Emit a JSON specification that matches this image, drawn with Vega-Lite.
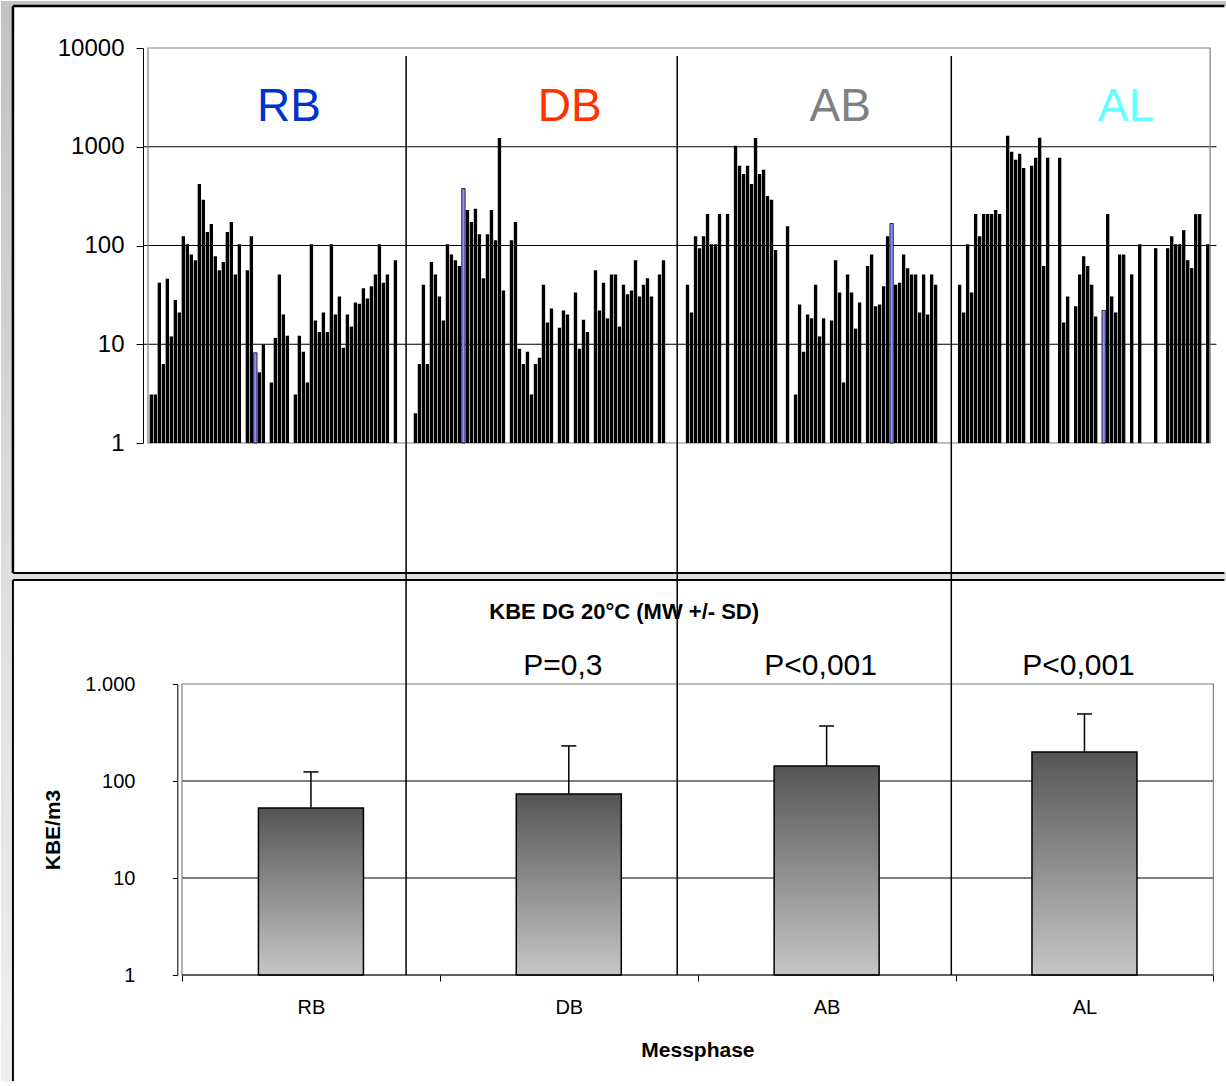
{
  "$schema": "https://vega.github.io/schema/vega-lite/v6.json",
  "background": "white",
  "padding": 0,
  "spacing": -3,
  "config": {
    "view": {"stroke": null},
    "font": "Liberation Sans",
    "axis": {"labelFont": "Liberation Sans", "titleFont": "Liberation Sans", "labelColor": "black", "titleColor": "black"}
  },
  "datasets": {
    "proben": [
      {"i":0,"v":3.1},{"i":1,"v":3.1},{"i":2,"v":42},{"i":3,"v":6.3},{"i":4,"v":46},{"i":5,"v":12},{"i":6,"v":28},{"i":7,"v":21},{"i":8,"v":124},{"i":9,"v":103},
      {"i":10,"v":81},{"i":11,"v":71},{"i":12,"v":420},{"i":13,"v":290},{"i":14,"v":137},{"i":15,"v":165},{"i":16,"v":78},{"i":17,"v":56},{"i":18,"v":68},{"i":19,"v":137},
      {"i":20,"v":173},{"i":21,"v":51},{"i":22,"v":103},{"i":24,"v":56},{"i":25,"v":124},{"i":26,"v":8.2,"flag":1},{"i":27,"v":5.2},{"i":28,"v":10},
      {"i":30,"v":4.1},{"i":31,"v":11.6},{"i":32,"v":51},{"i":33,"v":20},{"i":34,"v":12.2},{"i":36,"v":3.1},{"i":37,"v":12.2},{"i":38,"v":8.4},{"i":39,"v":4.1},
      {"i":40,"v":103},{"i":41,"v":17.4},{"i":42,"v":13.3},{"i":43,"v":21},{"i":44,"v":13.3},{"i":45,"v":103},{"i":46,"v":20},{"i":47,"v":30.5},{"i":48,"v":9.2},{"i":49,"v":20},
      {"i":50,"v":15.1},{"i":51,"v":26.5},{"i":52,"v":25.7},{"i":53,"v":36.8},{"i":54,"v":29},{"i":55,"v":38.6},{"i":56,"v":51},{"i":57,"v":103},{"i":58,"v":42},{"i":59,"v":51},
      {"i":61,"v":71},
      {"i":66,"v":2.0},{"i":67,"v":6.3},{"i":68,"v":40},{"i":69,"v":6.3},{"i":70,"v":68},{"i":71,"v":51},{"i":72,"v":30.5},{"i":73,"v":17.4},{"i":74,"v":103},{"i":75,"v":81},
      {"i":76,"v":71},{"i":77,"v":62},{"i":78,"v":377,"flag":1},{"i":79,"v":229},{"i":80,"v":173},{"i":81,"v":236},{"i":82,"v":130},{"i":83,"v":46.5},{"i":84,"v":130},{"i":85,"v":229},
      {"i":86,"v":113},{"i":87,"v":1225},{"i":88,"v":35},{"i":90,"v":113},{"i":91,"v":173},{"i":92,"v":9.0},{"i":93,"v":6.3},{"i":94,"v":8.4},{"i":95,"v":3.1},{"i":96,"v":6.3},
      {"i":97,"v":7.3},{"i":98,"v":40},{"i":99,"v":16.6},{"i":100,"v":23},{"i":102,"v":14.7},{"i":103,"v":22},{"i":104,"v":20},{"i":106,"v":33.5},{"i":107,"v":9.0},{"i":108,"v":17.7},
      {"i":109,"v":13.3},{"i":111,"v":56},{"i":112,"v":22},{"i":113,"v":42},{"i":114,"v":18.3},{"i":115,"v":51},{"i":116,"v":51},{"i":117,"v":15.1},{"i":118,"v":40},{"i":119,"v":32},
      {"i":120,"v":35},{"i":121,"v":71},{"i":122,"v":30.5},{"i":123,"v":40},{"i":124,"v":46.5},{"i":125,"v":30.5},{"i":127,"v":51},{"i":128,"v":71},
      {"i":134,"v":40},{"i":135,"v":21},{"i":136,"v":124},{"i":137,"v":94},{"i":138,"v":124},{"i":139,"v":208},{"i":140,"v":103},{"i":141,"v":103},{"i":142,"v":208},{"i":144,"v":208},
      {"i":146,"v":1024},{"i":147,"v":641},{"i":148,"v":531},{"i":149,"v":641},{"i":150,"v":420},{"i":151,"v":1225},{"i":152,"v":531},{"i":153,"v":584},{"i":154,"v":318},{"i":155,"v":290},
      {"i":156,"v":90},{"i":159,"v":157},{"i":161,"v":3.1},{"i":162,"v":25.3},{"i":163,"v":8.4},{"i":164,"v":20},{"i":165,"v":18.3},{"i":166,"v":40},{"i":167,"v":12},{"i":168,"v":18.3},
      {"i":170,"v":17.4},{"i":171,"v":71},{"i":172,"v":33.5},{"i":173,"v":4.1},{"i":174,"v":51},{"i":175,"v":33.5},{"i":176,"v":14.4},{"i":177,"v":26.5},{"i":179,"v":62},{"i":180,"v":81},
      {"i":181,"v":24.2},{"i":182,"v":25.3},{"i":183,"v":38.6},{"i":184,"v":124},{"i":185,"v":167,"flag":1},{"i":186,"v":40},{"i":187,"v":42},{"i":188,"v":81},{"i":189,"v":59},{"i":190,"v":51},
      {"i":191,"v":51},{"i":192,"v":21},{"i":193,"v":51},{"i":194,"v":20},{"i":195,"v":51},{"i":196,"v":40},
      {"i":202,"v":40},{"i":203,"v":21},{"i":204,"v":103},{"i":205,"v":33.5},{"i":206,"v":208},{"i":207,"v":124},{"i":208,"v":208},{"i":209,"v":208},{"i":210,"v":208},{"i":211,"v":229},
      {"i":212,"v":208},{"i":214,"v":1294},{"i":215,"v":890},{"i":216,"v":738},{"i":217,"v":849},{"i":218,"v":611},{"i":220,"v":641},{"i":221,"v":773},{"i":222,"v":1232},{"i":223,"v":62},
      {"i":224,"v":773},{"i":227,"v":773},{"i":228,"v":16.6},{"i":229,"v":30.5},{"i":231,"v":24.2},{"i":232,"v":51},{"i":233,"v":78},{"i":234,"v":62},{"i":235,"v":40},{"i":236,"v":19.1},
      {"i":238,"v":22,"flag":1},{"i":239,"v":208},{"i":240,"v":30.5},{"i":241,"v":21},{"i":242,"v":81},{"i":243,"v":81},{"i":245,"v":51},{"i":247,"v":103},{"i":251,"v":94},
      {"i":254,"v":94},{"i":255,"v":124},{"i":256,"v":103},{"i":257,"v":103},{"i":258,"v":143},{"i":259,"v":71},{"i":260,"v":59},{"i":261,"v":208},{"i":262,"v":208},{"i":264,"v":103}
    ],
    "phasen": [
      {"phase": "RB", "mitte": 34.42},
      {"phase": "DB", "mitte": 104.55},
      {"phase": "AB", "mitte": 172.17},
      {"phase": "AL", "mitte": 243.55}
    ],
    "mittel": [
      {"phase": "RB", "nr": 1, "mw": 52.7, "mw_sd": 124, "p": ""},
      {"phase": "DB", "nr": 2, "mw": 73.5, "mw_sd": 230, "p": "P=0,3"},
      {"phase": "AB", "nr": 3, "mw": 143, "mw_sd": 369, "p": "P<0,001"},
      {"phase": "AL", "nr": 4, "mw": 199, "mw_sd": 491, "p": "P<0,001"}
    ]
  },
  "vconcat": [
    {
      "width": 1073.4,
      "height": 395,
      "layer": [
        {
          "data": {"values": [{}]},
          "mark": {"type": "rect", "fill": {"gradient": "linear", "x1": 0, "y1": 0, "x2": 0, "y2": 1, "stops": [{"offset": 0, "color": "#c2c2c2"}, {"offset": 1, "color": "#dedede"}]}},
          "encoding": {
            "x": {"datum": -37.58, "type": "quantitative", "scale": {"domain": [-0.83, 264.92], "nice": false, "zero": false}},
            "x2": {"datum": -34.58},
            "y": {"datum": 29920, "type": "quantitative", "scale": {"type": "log", "domain": [1, 10000]}},
            "y2": {"datum": 0.04395}
          }
        },
        {
          "data": {"values": [{}]},
          "mark": {"type": "rect", "fill": "#c4c4c4"},
          "encoding": {
            "x": {"datum": -37.58, "type": "quantitative"},
            "x2": {"datum": 268.795},
            "y": {"datum": 29920, "type": "quantitative"},
            "y2": {"datum": 26630}
          }
        },
        {
          "data": {"values": [{}]},
          "mark": {"type": "rect", "fill": "#dfdfdf"},
          "encoding": {
            "x": {"datum": -37.58, "type": "quantitative"},
            "x2": {"datum": 268.795},
            "y": {"datum": 0.04826, "type": "quantitative"},
            "y2": {"datum": 0.04395}
          }
        },
        {
          "data": {"values": [{}]},
          "mark": {"type": "rect", "fill": "white"},
          "encoding": {
            "x": {"datum": -34.58, "type": "quantitative"},
            "x2": {"datum": 268.795},
            "y": {"datum": 26630, "type": "quantitative"},
            "y2": {"datum": 0.04826}
          }
        },
        {
          "data": {"values": [{}]},
          "mark": {"type": "rule", "color": "black", "strokeWidth": 2.5},
          "encoding": {
            "x": {"datum": -34.58, "type": "quantitative"},
            "y": {"datum": 26630, "type": "quantitative"},
            "y2": {"datum": 0.04826}
          }
        },
        {
          "data": {"values": [{}]},
          "mark": {"type": "rule", "color": "black", "strokeWidth": 2.5},
          "encoding": {
            "x": {"datum": -34.58, "type": "quantitative"},
            "x2": {"datum": 268.17},
            "y": {"datum": 26630, "type": "quantitative"}
          }
        },
        {
          "data": {"values": [{}]},
          "mark": {"type": "rule", "color": "black", "strokeWidth": 2},
          "encoding": {
            "x": {"datum": -34.58, "type": "quantitative"},
            "x2": {"datum": 268.17},
            "y": {"datum": 0.04826, "type": "quantitative"}
          }
        },
        {
          "data": {"values": [{"gitter": 10}, {"gitter": 100}, {"gitter": 1000}]},
          "mark": {"type": "rule", "color": "black", "strokeWidth": 1},
          "encoding": {
            "y": {"field": "gitter", "type": "quantitative"}
          }
        },
        {
          "data": {"values": [{}]},
          "mark": {"type": "rect", "fill": null, "stroke": "#808080", "strokeWidth": 1.2},
          "encoding": {
            "x": {"datum": -0.83, "type": "quantitative"},
            "x2": {"datum": 264.6},
            "y": {"datum": 1, "type": "quantitative"},
            "y2": {"datum": 10000}
          }
        },
        {
          "data": {"name": "proben"},
          "mark": {"type": "bar", "orient": "vertical", "size": 3.35},
          "encoding": {
            "x": {
              "field": "i", "type": "quantitative",
              "scale": {"domain": [-0.83, 264.92], "nice": false, "zero": false},
              "axis": {"domain": false, "ticks": false, "labels": false, "grid": false, "title": null}
            },
            "y": {
              "field": "v", "type": "quantitative",
              "scale": {"type": "log", "domain": [1, 10000]},
              "axis": {
                "values": [1, 10, 100, 1000, 10000],
                "grid": false,
                "domainColor": "black", "domainWidth": 1,
                "tickColor": "black", "tickSize": 7, "tickWidth": 1,
                "labelFontSize": 24, "labelPadding": 12,
                "labelExpr": "format(datum.value, 'd')",
                "title": null,
                "zindex": 1
              }
            },
            "y2": {"datum": 1},
            "fill": {"condition": {"test": "datum.flag === 1", "value": "#8f8fff"}, "value": "black"},
            "stroke": {"condition": {"test": "datum.flag === 1", "value": "black"}, "value": null},
            "strokeWidth": {"value": 0.8}
          }
        },
        {
          "data": {"values": [{"grenze": 63.67}, {"grenze": 131.42}, {"grenze": 199.92}]},
          "mark": {"type": "rule", "color": "black", "strokeWidth": 1.5},
          "encoding": {
            "x": {"field": "grenze", "type": "quantitative"},
            "y": {"datum": 8298, "type": "quantitative"},
            "y2": {"datum": 0.04395}
          }
        },
        {
          "data": {"name": "phasen"},
          "mark": {"type": "text", "fontSize": 46, "align": "center", "baseline": "alphabetic", "font": "Liberation Sans"},
          "encoding": {
            "x": {"field": "mitte", "type": "quantitative"},
            "y": {"datum": 1823, "type": "quantitative"},
            "text": {"field": "phase"},
            "color": {"field": "phase", "type": "nominal", "scale": {"domain": ["RB", "DB", "AB", "AL"], "range": ["#0033cc", "#ff3300", "#808080", "#66ffff"]}, "legend": null}
          }
        }
      ]
    },
    {
      "width": 1075.4,
      "height": 291,
      "layer": [
        {
          "data": {"values": [{}]},
          "mark": {"type": "rect", "fill": {"gradient": "linear", "x1": 0, "y1": 0, "x2": 0, "y2": 1, "stops": [{"offset": 0, "color": "#dedede"}, {"offset": 1, "color": "#efefef"}]}},
          "encoding": {
            "x": {"datum": -0.2022, "type": "quantitative", "scale": {"domain": [0.3681, 4.5], "nice": false, "zero": false}},
            "x2": {"datum": -0.1557},
            "y": {"datum": 12986, "type": "quantitative", "scale": {"type": "log", "domain": [1, 1000]}},
            "y2": {"datum": 0.0789}
          }
        },
        {
          "data": {"values": [{}]},
          "mark": {"type": "rect", "fill": "#dfdfdf"},
          "encoding": {
            "x": {"datum": -0.2022, "type": "quantitative"},
            "x2": {"datum": 4.5524},
            "y": {"datum": 12986, "type": "quantitative"},
            "y2": {"datum": 11810}
          }
        },
        {
          "data": {"values": [{}]},
          "mark": {"type": "rect", "fill": "white"},
          "encoding": {
            "x": {"datum": -0.1557, "type": "quantitative"},
            "x2": {"datum": 4.5524},
            "y": {"datum": 11810, "type": "quantitative"},
            "y2": {"datum": 0.0789}
          }
        },
        {
          "data": {"values": [{}]},
          "mark": {"type": "rule", "color": "black", "strokeWidth": 2},
          "encoding": {
            "x": {"datum": -0.1557, "type": "quantitative"},
            "y": {"datum": 11810, "type": "quantitative"},
            "y2": {"datum": 0.0808}
          }
        },
        {
          "data": {"values": [{}]},
          "mark": {"type": "rule", "color": "black", "strokeWidth": 2},
          "encoding": {
            "x": {"datum": -0.1557, "type": "quantitative"},
            "x2": {"datum": 4.5427},
            "y": {"datum": 11810, "type": "quantitative"}
          }
        },
        {
          "data": {"values": [{"gitter": 10}, {"gitter": 100}]},
          "mark": {"type": "rule", "color": "black", "strokeWidth": 1},
          "encoding": {
            "x": {"datum": 0.5, "type": "quantitative"},
            "x2": {"datum": 4.5},
            "y": {"field": "gitter", "type": "quantitative"}
          }
        },
        {
          "data": {"values": [{}]},
          "mark": {"type": "rect", "fill": null, "stroke": "#808080", "strokeWidth": 1.2},
          "encoding": {
            "x": {"datum": 0.5, "type": "quantitative"},
            "x2": {"datum": 4.5},
            "y": {"datum": 1, "type": "quantitative"},
            "y2": {"datum": 1000}
          }
        },
        {
          "data": {"name": "mittel"},
          "mark": {
            "type": "bar", "orient": "vertical", "size": 105, "stroke": "black", "strokeWidth": 1.5,
            "fill": {"gradient": "linear", "x1": 0, "y1": 0, "x2": 0, "y2": 1, "stops": [{"offset": 0, "color": "#555555"}, {"offset": 1, "color": "#c6c6c6"}]}
          },
          "encoding": {
            "x": {
              "field": "nr", "type": "quantitative",
              "scale": {"domain": [0.3681, 4.5], "nice": false, "zero": false},
              "axis": {
                "values": [0.5, 1, 1.5, 2, 2.5, 3, 3.5, 4, 4.5],
                "domain": false, "grid": false,
                "tickColor": "black", "tickSize": 6, "tickWidth": 1,
                "tickOpacity": {"condition": {"test": "datum.value % 1 === 0", "value": 0}, "value": 1},
                "labelExpr": "datum.value === 1 ? 'RB' : datum.value === 2 ? 'DB' : datum.value === 3 ? 'AB' : datum.value === 4 ? 'AL' : ''",
                "labelFontSize": 20, "labelPadding": 16, "labelOverlap": false, "labelFlush": false,
                "title": "Messphase", "titleFontSize": 21, "titleFontWeight": "bold", "titlePadding": 22,
                "titleX": 554.4,
                "zindex": 1
              }
            },
            "y": {
              "field": "mw", "type": "quantitative",
              "scale": {"type": "log", "domain": [1, 1000]},
              "axis": {
                "values": [1, 10, 100, 1000],
                "grid": false, "offset": -34.3,
                "domainColor": "black", "domainWidth": 1,
                "tickColor": "black", "tickSize": 5, "tickWidth": 1,
                "labelFontSize": 20, "labelPadding": 37.4,
                "labelExpr": "datum.value >= 1000 ? '1.000' : format(datum.value, 'd')",
                "title": "KBE/m3", "titleFontSize": 21, "titleFontWeight": "bold", "titlePadding": 21,
                "zindex": 1
              }
            },
            "y2": {"datum": 1}
          }
        },
        {
          "data": {"values": [{}]},
          "mark": {"type": "rule", "color": "black", "strokeWidth": 1.2},
          "encoding": {
            "x": {"datum": 0.5, "type": "quantitative"},
            "x2": {"datum": 4.5},
            "y": {"datum": 1, "type": "quantitative"}
          }
        },
        {
          "data": {"name": "mittel"},
          "mark": {"type": "rule", "color": "black", "strokeWidth": 1.5},
          "encoding": {
            "x": {"field": "nr", "type": "quantitative"},
            "y": {"field": "mw", "type": "quantitative"},
            "y2": {"field": "mw_sd"}
          }
        },
        {
          "data": {"name": "mittel"},
          "mark": {"type": "tick", "orient": "horizontal", "size": 15, "thickness": 1.5, "color": "black", "opacity": 1},
          "encoding": {
            "x": {"field": "nr", "type": "quantitative"},
            "y": {"field": "mw_sd", "type": "quantitative"}
          }
        },
        {
          "data": {"name": "mittel"},
          "transform": [{"filter": "datum.p !== ''"}],
          "mark": {"type": "text", "fontSize": 30, "align": "center", "baseline": "alphabetic", "dx": -6, "color": "black"},
          "encoding": {
            "x": {"field": "nr", "type": "quantitative"},
            "y": {"datum": 1238, "type": "quantitative"},
            "text": {"field": "p"}
          }
        },
        {
          "data": {"values": [{"titel": "KBE DG 20°C (MW +/- SD)"}]},
          "mark": {"type": "text", "fontSize": 22, "fontWeight": "bold", "align": "center", "baseline": "alphabetic", "color": "black"},
          "encoding": {
            "x": {"datum": 2.2149, "type": "quantitative"},
            "y": {"datum": 4677, "type": "quantitative"},
            "text": {"field": "titel"}
          }
        },
        {
          "data": {"values": [{"grenze": 1.369}, {"grenze": 2.4205}, {"grenze": 3.4835}]},
          "mark": {"type": "rule", "color": "black", "strokeWidth": 1.5},
          "encoding": {
            "x": {"field": "grenze", "type": "quantitative"},
            "y": {"datum": 12986, "type": "quantitative"},
            "y2": {"datum": 1}
          }
        }
      ]
    }
  ]
}
